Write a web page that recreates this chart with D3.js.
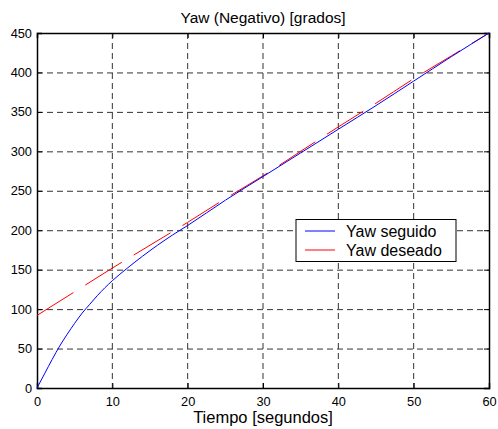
<!DOCTYPE html>
<html><head><meta charset="utf-8">
<script src="https://cdn.jsdelivr.net/npm/d3@7"></script>
<style>body{margin:0;background:#fff;} text{font-family:Arial,"Liberation Sans",sans-serif;}</style>
</head><body>
<svg id="c" width="498" height="429"></svg>
<script>
const xTicks = [0,10,20,30,40,50,60];
const yTicks = [0,50,100,150,200,250,300,350,400,450];
const tSeguido = [0,1,2,3,4,5,6,7,8,9,10,12,14,16,18,20,25,30,35,40,45,50,55,60];
const vSeguido = [0,18,36,53,68,82,95,106,117,127,136,152,167,181,194,206,238,268,298,328,358,389,420,450];
const tDeseado = [0,5,10,15,20,25,30,35,40,45,50,55,60];
const vDeseado = [92,122,152,181,210,240,269,300,331,361,392,421,450];
const seriesNames = ["Yaw seguido","Yaw deseado"];
const seriesColors = ["#0000ff","#ff0000"];

const L=37,R=489,T=33,B=388;
const svg=d3.select("#c");
const x=d3.scaleLinear().domain([0,60]).range([L,R]);
const y=d3.scaleLinear().domain([0,450]).range([B,T]);

// grid
const g=svg.append("g");
g.selectAll(".vg").data(xTicks.slice(1,-1)).join("line")
 .attr("x1",d=>x(d)).attr("x2",d=>x(d)).attr("y1",T).attr("y2",B)
 .attr("stroke","#333").attr("stroke-width",1).attr("stroke-dasharray","6,4");
g.selectAll(".hg").data(yTicks.slice(1,-1)).join("line")
 .attr("y1",d=>y(d)+0.5).attr("y2",d=>y(d)+0.5).attr("x1",L).attr("x2",R)
 .attr("stroke","#333").attr("stroke-width",1).attr("stroke-dasharray","6,4");

// axes
const xa=svg.append("g").attr("transform",`translate(0,${B})`)
 .call(d3.axisBottom(x).tickValues(xTicks).tickSize(-5).tickPadding(9).tickFormat(d3.format("d")));
const xa2=svg.append("g").attr("transform",`translate(0,${T})`)
 .call(d3.axisTop(x).tickValues(xTicks).tickSize(-5).tickFormat(""));
const ya=svg.append("g").attr("transform",`translate(${L},0)`)
 .call(d3.axisLeft(y).tickValues(yTicks).tickSize(-5).tickPadding(5).tickFormat(d3.format("d")));
const ya2=svg.append("g").attr("transform",`translate(${R},0)`)
 .call(d3.axisRight(y).tickValues(yTicks).tickSize(-5).tickFormat(""));
[xa,xa2,ya,ya2].forEach(a=>{
  a.selectAll("path").attr("stroke","#000").attr("stroke-width",1.5);
  a.selectAll("line").attr("stroke","#000");
  a.selectAll("text").attr("font-size",12.8).attr("fill","#000").style("font-family","Arial, 'Liberation Sans', sans-serif");
});

// lines
const line=d3.line().x(d=>x(d[0])).y(d=>y(d[1])).curve(d3.curveMonotoneX);
svg.append("path").datum(tDeseado.map((t,i)=>[t,vDeseado[i]]))
 .attr("d",line).attr("fill","none").attr("stroke",seriesColors[1]).attr("stroke-width",1)
 .attr("stroke-dasharray","43,14");
svg.append("path").datum(tSeguido.map((t,i)=>[t,vSeguido[i]]))
 .attr("d",line).attr("fill","none").attr("stroke",seriesColors[0]).attr("stroke-width",1);

// title & labels
svg.append("text").attr("x",(L+R)/2).attr("y",23).attr("text-anchor","middle")
 .attr("font-size",15.5).text("Yaw (Negativo) [grados]");
svg.append("text").attr("x",(L+R)/2).attr("y",423).attr("text-anchor","middle")
 .attr("font-size",16.5).text("Tiempo [segundos]");

// legend
const lg=svg.append("g");
lg.append("rect").attr("x",296).attr("y",219.5).attr("width",160).attr("height",42)
 .attr("fill","#fff").attr("stroke","#000").attr("stroke-width",1);
seriesNames.forEach((n,i)=>{
  const yy=231+i*19;
  lg.append("line").attr("x1",305).attr("x2",335).attr("y1",yy).attr("y2",yy).attr("stroke",seriesColors[i]);
  lg.append("text").attr("x",346).attr("y",yy+5.5).attr("font-size",16).text(n);
});
</script>
</body></html>
